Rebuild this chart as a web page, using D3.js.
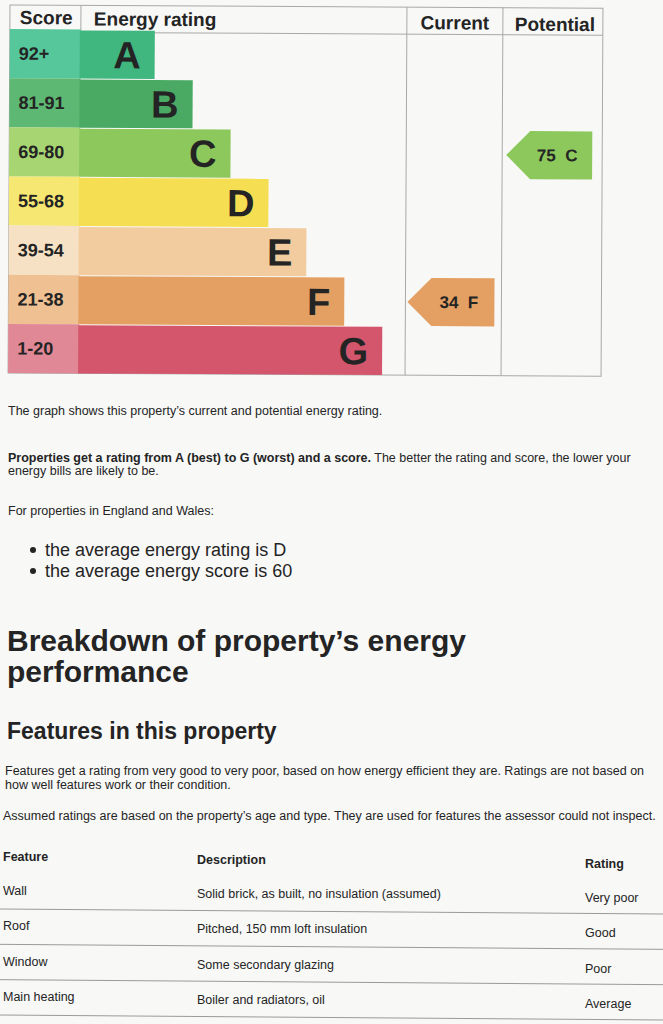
<!DOCTYPE html>
<html><head><meta charset="utf-8">
<script src="https://cdn.jsdelivr.net/npm/d3@7"></script>
<style>
html,body{margin:0;padding:0;background:#f8f8f7;}
svg{display:block;font-family:"Liberation Sans",Arial,sans-serif;}
</style></head>
<body>
<svg id="c" width="663" height="1024"></svg>
<script>
// ---- data ----
const ratings = ["A","B","C","D","E","F","G"];
const scoreRanges = ["92+","81-91","69-80","55-68","39-54","21-38","1-20"];
const scoreThresholds = [21,39,55,69,81,92];
const currentScore = 34;
const potentialScore = 75;
const columnHeaders = ["Score","Energy rating","Current","Potential"];

const introText = "The graph shows this property\u2019s current and potential energy rating.";
const boldText = "Properties get a rating from A (best) to G (worst) and a score.";
const afterBold1 = " The better the rating and score, the lower your";
const afterBold2 = "energy bills are likely to be.";
const regionText = "For properties in England and Wales:";
const bullets = ["the average energy rating is D","the average energy score is 60"];
const heading1 = ["Breakdown of property\u2019s energy","performance"];
const heading2 = "Features in this property";
const para1 = ["Features get a rating from very good to very poor, based on how energy efficient they are. Ratings are not based on","how well features work or their condition."];
const para2 = "Assumed ratings are based on the property\u2019s age and type. They are used for features the assessor could not inspect.";
const tableHeaders = ["Feature","Description","Rating"];
const features = ["Wall","Roof","Window","Main heating"];
const descriptions = ["Solid brick, as built, no insulation (assumed)","Pitched, 150 mm loft insulation","Some secondary glazing","Boiler and radiators, oil"];
const featureRatings = ["Very poor","Good","Poor","Average"];

// ---- styles ----
const bandColor = {A:"#3fb77f",B:"#4aaa64",C:"#8dc85c",D:"#f6de52",E:"#f2cc9f",F:"#e4a062",G:"#d4566c"};
const scoreColor = {A:"#55c79a",B:"#5db873",C:"#a6d571",D:"#f5e772",E:"#f6e1c4",F:"#eec092",G:"#e18897"};
const ink = "#242424";
const gridCol = "#a8a8a8";

const svg = d3.select("#c");

// ---- scales ----
const toRating = d3.scaleThreshold().domain(scoreThresholds).range(ratings.slice().reverse());
const y = d3.scaleBand().domain(ratings).range([29, 373]);
const barEnd = d3.scalePoint().domain(ratings).range([155, 384]);
const cols = {scoreL:10, scoreR:81, curL:407, curR:503, potL:503, potR:603, top:5, head:32, bottom:373};

// ---- chart ----
const g = svg.append("g").attr("transform","rotate(0.3)");

g.append("rect").attr("x",cols.scoreL).attr("y",cols.top).attr("width",cols.potR-cols.scoreL)
 .attr("height",cols.bottom-cols.top).attr("fill","none").attr("stroke",gridCol).attr("stroke-width",1);
g.append("line").attr("x1",cols.scoreR).attr("x2",cols.potR).attr("y1",cols.head).attr("y2",cols.head).attr("stroke",gridCol);
g.append("line").attr("x1",cols.scoreR).attr("x2",cols.scoreR).attr("y1",cols.top).attr("y2",cols.head).attr("stroke",gridCol);
[cols.curL, cols.potL].forEach(x=>{
  g.append("line").attr("x1",x).attr("x2",x).attr("y1",cols.top).attr("y2",cols.bottom).attr("stroke",gridCol);
});

const hdr = [
  {t:columnHeaders[0], x:20, y:24, a:"start"},
  {t:columnHeaders[1], x:94, y:25, a:"start"},
  {t:columnHeaders[2], x:(cols.curL+cols.curR)/2, y:27, a:"middle"},
  {t:columnHeaders[3], x:(cols.potL+cols.potR)/2+2, y:28, a:"middle"}
];
g.selectAll("text.hdr").data(hdr).join("text").attr("class","hdr")
 .attr("x",d=>d.x).attr("y",d=>d.y).attr("text-anchor",d=>d.a)
 .attr("font-size",19).attr("font-weight","bold").attr("fill",ink).text(d=>d.t);

const rows = g.selectAll("g.row").data(ratings).join("g").attr("class","row");
rows.append("rect").attr("x",cols.scoreL).attr("y",d=>y(d)).attr("width",cols.scoreR-cols.scoreL)
 .attr("height",y.bandwidth()).attr("fill",d=>scoreColor[d]);
rows.append("rect").attr("x",cols.scoreR-1).attr("y",d=>y(d)+1).attr("width",d=>barEnd(d)-cols.scoreR+1)
 .attr("height",y.bandwidth()-1).attr("fill",d=>bandColor[d]);
rows.append("text").attr("x",cols.scoreL+9).attr("y",d=>y(d)+y.bandwidth()/2+6)
 .attr("font-size",18).attr("font-weight","bold").attr("fill",ink).text((d,i)=>scoreRanges[i]);
rows.append("text").attr("x",d=>barEnd(d)-14).attr("y",d=>y(d)+y.bandwidth()/2+14)
 .attr("text-anchor","end").attr("font-size",38).attr("font-weight","bold").attr("fill",ink).text(d=>d);

const arrows = [
  {score:currentScore, l:cols.curL+2, r:cols.curR-7},
  {score:potentialScore, l:cols.potL+4, r:cols.potR-10}
];
const head = 24;
arrows.forEach(a=>{
  const rt = toRating(a.score);
  const t = y(rt)+1, b = y(rt)+y.bandwidth(), m = (t+b)/2;
  g.append("path").attr("d",`M${a.l},${m}L${a.l+head},${t}L${a.r},${t}L${a.r},${b}L${a.l+head},${b}Z`)
   .attr("fill",bandColor[rt]);
  g.append("text").attr("x",(a.l+head+a.r)/2-4).attr("y",m+6).attr("text-anchor","middle")
   .attr("font-size",17).attr("font-weight","bold").attr("fill",ink).style("white-space","pre")
   .text(a.score+"  "+rt);
});

// ---- text block ----
const tb = svg.append("g").attr("fill",ink);
const body = 12.5;
tb.append("text").attr("x",8).attr("y",415).attr("font-size",body).text(introText);
const p = tb.append("text").attr("x",8).attr("y",462).attr("font-size",body);
p.append("tspan").attr("font-weight","bold").text(boldText);
p.append("tspan").style("white-space","pre").text(afterBold1);
tb.append("text").attr("x",8).attr("y",475).attr("font-size",body).text(afterBold2);
tb.append("text").attr("x",8).attr("y",515).attr("font-size",body).text(regionText);
bullets.forEach((b,i)=>{
  tb.append("circle").attr("cx",33).attr("cy",550+i*21).attr("r",3).attr("fill",ink);
  tb.append("text").attr("x",45).attr("y",556+i*21).attr("font-size",18).text(b);
});
heading1.forEach((h,i)=>{
  tb.append("text").attr("x",7).attr("y",651+i*31).attr("font-size",30).attr("font-weight","bold").text(h);
});
tb.append("text").attr("x",7).attr("y",739).attr("font-size",23).attr("font-weight","bold").text(heading2);
para1.forEach((t,i)=>{
  tb.append("text").attr("x",5).attr("y",775+i*14).attr("font-size",body).text(t);
});
tb.append("text").attr("x",3).attr("y",820).attr("font-size",body).text(para2);

// table (the scan is slightly tilted: right-hand columns sit a little lower)
const colX = [3,197,585];
const colDy = [0,3,7];
const rowY = d3.scalePoint().domain(features).range([895, 1001]);
tableHeaders.forEach((h,i)=>{
  tb.append("text").attr("x",colX[i]).attr("y",861+colDy[i]).attr("font-size",body).attr("font-weight","bold").text(h);
});
features.forEach((f,i)=>{
  const yy = rowY(f);
  tb.append("text").attr("x",colX[0]).attr("y",yy+colDy[0]).attr("font-size",body).text(f);
  tb.append("text").attr("x",colX[1]).attr("y",yy+colDy[1]).attr("font-size",body).text(descriptions[i]);
  tb.append("text").attr("x",colX[2]).attr("y",yy+colDy[2]).attr("font-size",body).text(featureRatings[i]);
  tb.append("line").attr("x1",0).attr("x2",663).attr("y1",yy+14).attr("y2",yy+19)
    .attr("stroke","#9a9a9a").attr("stroke-width",1);
});
</script>
</body></html>
